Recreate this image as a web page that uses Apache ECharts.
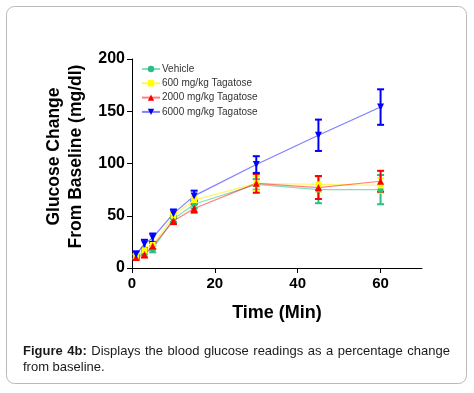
<!DOCTYPE html>
<html>
<head>
<meta charset="utf-8">
<script src="https://cdn.jsdelivr.net/npm/echarts@6/dist/echarts.min.js"></script>
<style>
  html, body { margin: 0; padding: 0; background: #fff; }
  #chart { width: 474px; height: 393px; }
</style>
</head>
<body>
<div id="chart"></div>
<script>
// time points (min)
const times = [1, 3, 5, 10, 15, 30, 45, 60]
// mean glucose change and error (mg/dl)
const vehicle = [11, 15, 18, 47, 61, 80, 75, 75]
const vehicleErr = [2, 2, 3, 3, 4, 5, 13, 14]
const tag600 = [11, 17, 22, 50, 65, 81, 80, 79]
const tag600Err = [2, 3, 3, 3, 4, 7, 7, 7]
const tag2000 = [10, 13, 21, 45, 57, 81, 77, 83]
const tag2000Err = [2, 3, 3, 3, 4, 9, 11, 10]
const tag6000 = [13, 23, 29, 52, 69, 99, 127, 154]
const tag6000Err = [3, 4, 4, 4, 5, 8, 15, 17]
const xTicks = [0, 20, 40, 60]
const captionLine1 = 'Figure 4b: Displays the blood glucose readings as a percentage change'
const captionLine2 = 'from baseline.'

const FONT = '"Liberation Sans", Arial, sans-serif'
const CAP_SIZE = 13

const groups = [
  { name: 'Vehicle', mean: vehicle, err: vehicleErr, color: '#27bf84', line: 'rgba(39,191,132,0.55)', symbol: 'circle', size: 6 },
  { name: '600 mg/kg Tagatose', mean: tag600, err: tag600Err, color: '#ffff00', line: 'rgba(255,240,0,0.6)', symbol: 'rect', size: 6 },
  { name: '2000 mg/kg Tagatose', mean: tag2000, err: tag2000Err, color: '#ff0000', line: 'rgba(255,0,0,0.5)', symbol: 'triangle', size: 7 },
  { name: '6000 mg/kg Tagatose', mean: tag6000, err: tag6000Err, color: '#0000ff', line: 'rgba(0,0,255,0.5)', symbol: 'path://M0,0 L10,0 L5,10 Z', size: 7 }
]

// error bar drawn through the axis scales
function errorBar(color) {
  return function (params, api) {
    const x = api.value(0)
    const y = api.value(1)
    const e = api.value(2)
    const top = api.coord([x, y + e])
    const bot = api.coord([x, y - e])
    const hw = 3.5
    const st = { stroke: color, lineWidth: 2 }
    return {
      type: 'group',
      children: [
        { type: 'line', shape: { x1: top[0], y1: top[1], x2: bot[0], y2: bot[1] }, style: st },
        { type: 'line', shape: { x1: top[0] - hw, y1: top[1], x2: top[0] + hw, y2: top[1] }, style: st },
        { type: 'line', shape: { x1: bot[0] - hw, y1: bot[1], x2: bot[0] + hw, y2: bot[1] }, style: st }
      ]
    }
  }
}

const series = []
groups.forEach(function (g) {
  series.push({
    name: g.name + ' err',
    type: 'custom',
    renderItem: errorBar(g.color),
    data: times.map(function (t, i) { return [t, g.mean[i], g.err[i]] }),
    silent: true
  })
  series.push({
    name: g.name,
    type: 'line',
    data: times.map(function (t, i) { return [t, g.mean[i]] }),
    symbol: g.symbol,
    symbolSize: g.size,
    showAllSymbol: true,
    itemStyle: { color: g.color },
    lineStyle: { color: g.line, width: 1.2 }
  })
})

// caption, justified like the figure text
const measure = document.createElement('canvas').getContext('2d')
function wordWidth(w, bold) {
  measure.font = (bold ? 'bold ' : '') + CAP_SIZE + 'px ' + FONT
  return measure.measureText(w).width
}
const graphics = [
  {
    type: 'rect',
    shape: { x: 6.5, y: 6.5, width: 460, height: 377, r: 8 },
    style: { fill: 'none', stroke: '#b9b9b9', lineWidth: 1 },
    z: -1
  }
]
const words = captionLine1.split(' ')
const widths = words.map(function (w, i) { return wordWidth(w, i < 2) })
const left = 23
const right = 450
const gap = (right - left - widths.reduce(function (a, b) { return a + b }, 0)) / (words.length - 1)
let cx = left
words.forEach(function (w, i) {
  graphics.push({
    type: 'text',
    x: cx,
    y: 351,
    style: { text: w, font: (i < 2 ? 'bold ' : '') + CAP_SIZE + 'px ' + FONT, fill: '#1a1a1a', verticalAlign: 'middle' }
  })
  cx += widths[i] + gap
})
graphics.push({
  type: 'text',
  x: left,
  y: 367,
  style: { text: captionLine2, font: CAP_SIZE + 'px ' + FONT, fill: '#1a1a1a', verticalAlign: 'middle' }
})

const myChart = echarts.init(document.getElementById('chart'), null, { renderer: 'canvas' })
myChart.setOption({
  animation: false,
  backgroundColor: '#fff',
  grid: { left: 132, top: 59, width: 290, height: 209, containLabel: false },
  legend: {
    data: groups.map(function (g) { return g.name }),
    orient: 'vertical',
    left: 136,
    top: 59,
    itemWidth: 18,
    itemHeight: 8,
    itemGap: 4.3,
    itemStyle: { borderWidth: 0 },
    textStyle: { fontFamily: FONT, fontSize: 10, color: '#333', lineHeight: 10, padding: [0, 0, 0, -3] }
  },
  xAxis: {
    type: 'value',
    min: 0,
    max: 70,
    name: 'Time (Min)',
    nameLocation: 'middle',
    nameGap: 36,
    nameTextStyle: { fontFamily: FONT, fontSize: 18, fontWeight: 'bold', color: '#000' },
    axisLine: { lineStyle: { color: '#000', width: 1 } },
    axisTick: { length: 5, customValues: xTicks, lineStyle: { color: '#000' } },
    axisLabel: { customValues: xTicks, margin: 8, fontFamily: FONT, fontSize: 15, fontWeight: 'bold', color: '#000' },
    splitLine: { show: false }
  },
  yAxis: {
    type: 'value',
    min: 0,
    max: 200,
    interval: 50,
    name: 'Glucose Change\nFrom Baseline (mg/dl)',
    nameLocation: 'middle',
    nameGap: 39,
    nameTextStyle: { fontFamily: FONT, fontSize: 17.5, fontWeight: 'bold', color: '#000', lineHeight: 22, padding: [0, 0, 0, 14] },
    axisLine: { show: true, lineStyle: { color: '#000', width: 1 } },
    axisTick: { show: true, length: 5, lineStyle: { color: '#000' } },
    axisLabel: { margin: 7, fontFamily: FONT, fontSize: 16, fontWeight: 'bold', color: '#000' },
    splitLine: { show: false }
  },
  graphic: graphics,
  series: series
})
</script>
</body>
</html>
